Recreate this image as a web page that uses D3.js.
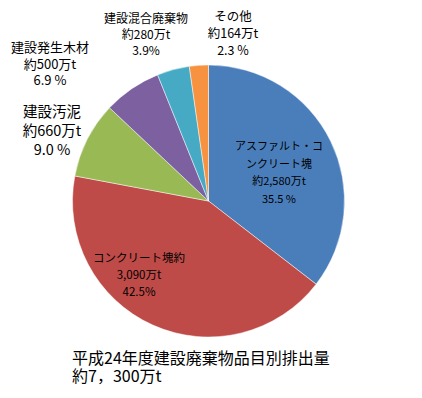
<!DOCTYPE html>
<html>
<head>
<meta charset="utf-8">
<script src="https://cdn.jsdelivr.net/npm/d3@7"></script>
<style>
  body { margin: 0; background: #fff; }
  svg text { font-family: "Noto Sans CJK JP", "Noto Sans", sans-serif; fill: #000; }
</style>
</head>
<body>
<svg id="chart" width="422" height="398"></svg>
<script>
// ── Data ──
const categories = ["アスファルト・コンクリート塊", "コンクリート塊", "建設汚泥", "建設発生木材", "建設混合廃棄物", "その他"];
const amounts    = [2580, 3090, 660, 500, 280, 164];          // 万t
const percents   = ["35.5 %", "42.5%", "9.0 %", "6.9 %", "3.9%", "2.3 %"];
const colors     = ["#4a7ebb", "#be4b48", "#98b954", "#7d60a0", "#46aac5", "#f69240"];

// label text lines per slice (as printed in the chart)
const labelLines = [
    ["アスファルト・コ", "ンクリート塊", "約2,580万t", percents[0]],
    ["コンクリート塊約", "3,090万t", percents[1]],
    ["建設汚泥", "約660万t", percents[2]],
    ["建設発生木材", "約500万t", percents[3]],
    ["建設混合廃棄物", "約280万t", percents[4]],
    ["その他", "約164万t", percents[5]]
];
const titleLines = ["平成24年度建設廃棄物品目別排出量", "約7，300万t"];

// ── Layout ──
const cx = 208.5, cy = 201, radius = 136;
// label anchors: [x, y of first line, font size, line step]
const labelLayout = [
    [279, 145, 11, 17.5],
    [139, 257, 11.5, 17],
    [52, 110, 14.5, 19],
    [50, 46, 13, 16.5],
    [146, 17, 12, 16],
    [233, 15, 12.5, 17]
];

const svg = d3.select('#chart');
const g = svg.append('g').attr('transform', `translate(${cx},${cy})`);

const pie = d3.pie().sort(null).value(d => d);
const arc = d3.arc().innerRadius(0).outerRadius(radius);

g.selectAll('path.slice')
    .data(pie(amounts))
    .enter().append('path')
    .attr('class', 'slice')
    .attr('d', arc)
    .attr('fill', (d, i) => colors[i])
    .attr('stroke', '#fff')
    .attr('stroke-opacity', 0.6)
    .attr('stroke-width', 0.8);

// ── Slice labels ──
labelLines.forEach((lines, i) => {
    const [x, y, fs, step] = labelLayout[i];
    const t = svg.append('text')
        .attr('text-anchor', 'middle')
        .attr('dominant-baseline', 'central')
        .style('font-size', fs + 'px');
    lines.forEach((s, j) => {
        t.append('tspan').attr('x', x).attr('y', y + j * step).text(s);
    });
});

// ── Title ──
const title = svg.append('text').style('font-size', '16px').attr('dominant-baseline', 'central');
titleLines.forEach((s, j) => {
    title.append('tspan').attr('x', 72).attr('y', 357 + j * 18).text(s);
});
</script>
</body>
</html>
